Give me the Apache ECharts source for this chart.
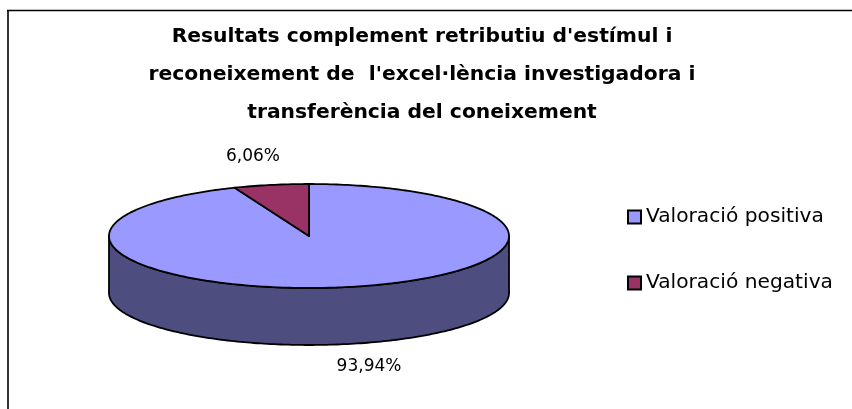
<!DOCTYPE html>
<html>
<head>
<meta charset="utf-8">
<style>
  html, body { margin: 0; padding: 0; background: #fff; }
  #chart { width: 852px; height: 409px; }
</style>
<script src="https://cdn.jsdelivr.net/npm/echarts@6/dist/echarts.min.js"></script>
</head>
<body>
<div id="chart"></div>
<script>
const titleLines = [
  "Resultats complement retributiu d'estímul i",
  "reconeixement de  l'excel·lència investigadora i",
  'transferència del coneixement'
]
const categories = ['Valoració positiva', 'Valoració negativa']
const values = [93.94, 6.06]
const colors = ['#9999FF', '#993366']
const sideColor = '#4D4D80'
const fontFamily = '"DejaVu Sans", sans-serif'

// el pastis es dibuixa a mà: ECharts no té pie 3D
const cx = 309
const cy = 236
const rx = 200
const ry = 52
const depth = 57
const labelPos = [[369, 367], [253, 157]]
const total = values.reduce((a, b) => a + b, 0)

// angle en graus, 0 = dalt, sentit horari
function pt(deg, dy = 0) {
  const a = (deg * Math.PI) / 180
  return [cx + rx * Math.sin(a), cy - ry * Math.cos(a) + dy]
}
function arc(from, to, dy = 0) {
  const pts = []
  const n = Math.max(2, Math.ceil(Math.abs(to - from)))
  for (let i = 0; i <= n; i++) {
    pts.push(pt(from + ((to - from) * i) / n, dy))
  }
  return pts
}
const edge = { stroke: '#000', lineWidth: 1.8, lineJoin: 'round' }

function renderSlice(index) {
  return function (params, api) {
    const value = api.value(0)
    const before = values.slice(0, index).reduce((a, b) => a + b, 0)
    const start = (before / total) * 360
    const end = start + (value / total) * 360
    const children = []
    if (index === 0) {
      // paret frontal
      children.push({
        type: 'polygon',
        shape: { points: arc(90, 270).concat(arc(270, 90, depth)) },
        style: { fill: sideColor, ...edge }
      })
    }
    children.push({
      type: 'polygon',
      shape: { points: [[cx, cy]].concat(arc(start, end)) },
      style: { fill: colors[index], ...edge }
    })
    children.push({
      type: 'text',
      style: {
        x: labelPos[index][0],
        y: labelPos[index][1],
        text: value.toFixed(2).replace('.', ',') + '%',
        font: '17px ' + fontFamily,
        fill: '#000',
        align: 'center',
        verticalAlign: 'middle'
      }
    })
    return { type: 'group', children }
  }
}

const chart = echarts.init(document.getElementById('chart'))
chart.setOption({
  animation: false,
  backgroundColor: '#fff',
  title: {
    text: titleLines.join('\n'),
    left: 417,
    top: 13,
    textAlign: 'center',
    textStyle: {
      fontFamily,
      fontSize: 20.3,
      fontWeight: 'bold',
      color: '#000',
      lineHeight: 38
    }
  },
  legend: {
    orient: 'vertical',
    left: 627,
    top: 207,
    padding: 0,
    itemWidth: 13,
    itemHeight: 13,
    itemGap: 46,
    itemStyle: { borderWidth: 2 },
    icon: 'rect',
    data: categories,
    textStyle: { fontFamily, fontSize: 20.2, color: '#000' },
    selectedMode: false
  },
  graphic: [
    {
      type: 'polyline',
      shape: { points: [[8, 409], [8, 10]] },
      style: { stroke: '#333', lineWidth: 2, fill: null }
    },
    {
      type: 'polyline',
      shape: { points: [[7, 10.5], [852, 10.5]] },
      style: { stroke: '#000', lineWidth: 1.5, fill: null }
    }
  ],
  series: categories.map((name, i) => ({
    type: 'custom',
    name,
    coordinateSystem: 'none',
    renderItem: renderSlice(i),
    data: [values[i]],
    itemStyle: { color: colors[i], borderColor: '#000', borderWidth: 2 }
  }))
})
</script>
</body>
</html>
